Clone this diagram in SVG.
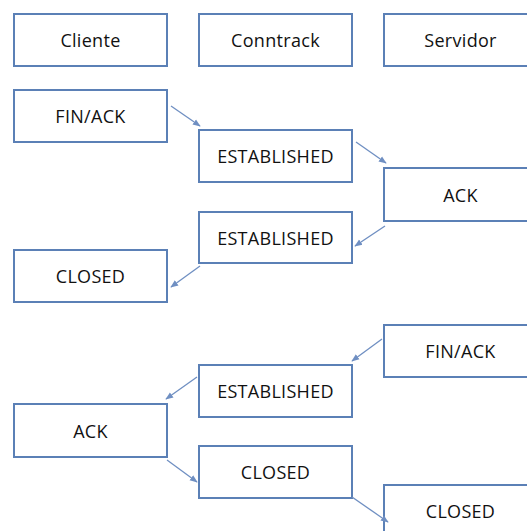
<svg xmlns="http://www.w3.org/2000/svg" width="527" height="531" viewBox="0 0 527 531">
  <defs>
    <style>
      .box rect { fill: #ffffff; stroke: #5b80b6; stroke-width: 2; }
      .box text { font-family: "Open Sans", "Noto Sans", "DejaVu Sans", sans-serif; font-size: 18px; letter-spacing: 0.3px; fill: #111111; text-anchor: middle; dominant-baseline: central; }
      .link { stroke: #6f8fc2; stroke-width: 1.3; fill: none; marker-end: url(#arrow); }
    </style>
    <marker id="arrow" viewBox="0 0 10 10" refX="9" refY="5" markerWidth="6" markerHeight="6" orient="auto">
      <path d="M0,1 L10,5 L0,9 z" fill="#6f8fc2"/>
    </marker>
  </defs>
  <rect width="527" height="531" fill="#ffffff"/>

  <!-- column headers -->
  <g id="cliente" class="box"><rect x="14" y="14" width="153" height="52"/><text x="90.5" y="40">Cliente</text></g>
  <g id="conntrack" class="box"><rect x="199" y="14" width="153" height="52"/><text x="275.5" y="40">Conntrack</text></g>
  <g id="servidor" class="box"><rect x="384" y="14" width="153" height="52"/><text x="460.5" y="40">Servidor</text></g>

  <!-- first sequence -->
  <g id="c-finack" class="box"><rect x="14" y="90" width="153" height="52"/><text x="90.5" y="116">FIN/ACK</text></g>
  <g id="ct-established-1" class="box"><rect x="199" y="130" width="153" height="52"/><text x="275.5" y="156">ESTABLISHED</text></g>
  <g id="s-ack" class="box"><rect x="384" y="168" width="153" height="53"/><text x="460.5" y="194.5">ACK</text></g>
  <g id="ct-established-2" class="box"><rect x="199" y="212" width="153" height="51"/><text x="275.5" y="237.5">ESTABLISHED</text></g>
  <g id="c-closed" class="box"><rect x="14" y="250" width="153" height="52"/><text x="90.5" y="276">CLOSED</text></g>

  <!-- second sequence -->
  <g id="s-finack" class="box"><rect x="384" y="325" width="153" height="52"/><text x="460.5" y="351">FIN/ACK</text></g>
  <g id="ct-established-3" class="box"><rect x="199" y="365" width="153" height="52"/><text x="275.5" y="391">ESTABLISHED</text></g>
  <g id="c-ack" class="box"><rect x="14" y="404" width="153" height="53"/><text x="90.5" y="430.5">ACK</text></g>
  <g id="ct-closed" class="box"><rect x="199" y="446" width="153" height="52"/><text x="275.5" y="472">CLOSED</text></g>
  <g id="s-closed" class="box"><rect x="384" y="485" width="153" height="52"/><text x="460.5" y="511">CLOSED</text></g>

  <g id="connectors">
    <line class="link" x1="171" y1="106" x2="200" y2="126"/>
    <line class="link" x1="356" y1="142" x2="386" y2="163"/>
    <line class="link" x1="385" y1="226" x2="355" y2="246"/>
    <line class="link" x1="200" y1="266" x2="171" y2="287"/>
    <line class="link" x1="382" y1="339" x2="352" y2="361"/>
    <line class="link" x1="197" y1="377" x2="166" y2="399"/>
    <line class="link" x1="167" y1="460" x2="197" y2="482"/>
    <line class="link" x1="352" y1="497" x2="388" y2="522"/>
  </g>
</svg>
